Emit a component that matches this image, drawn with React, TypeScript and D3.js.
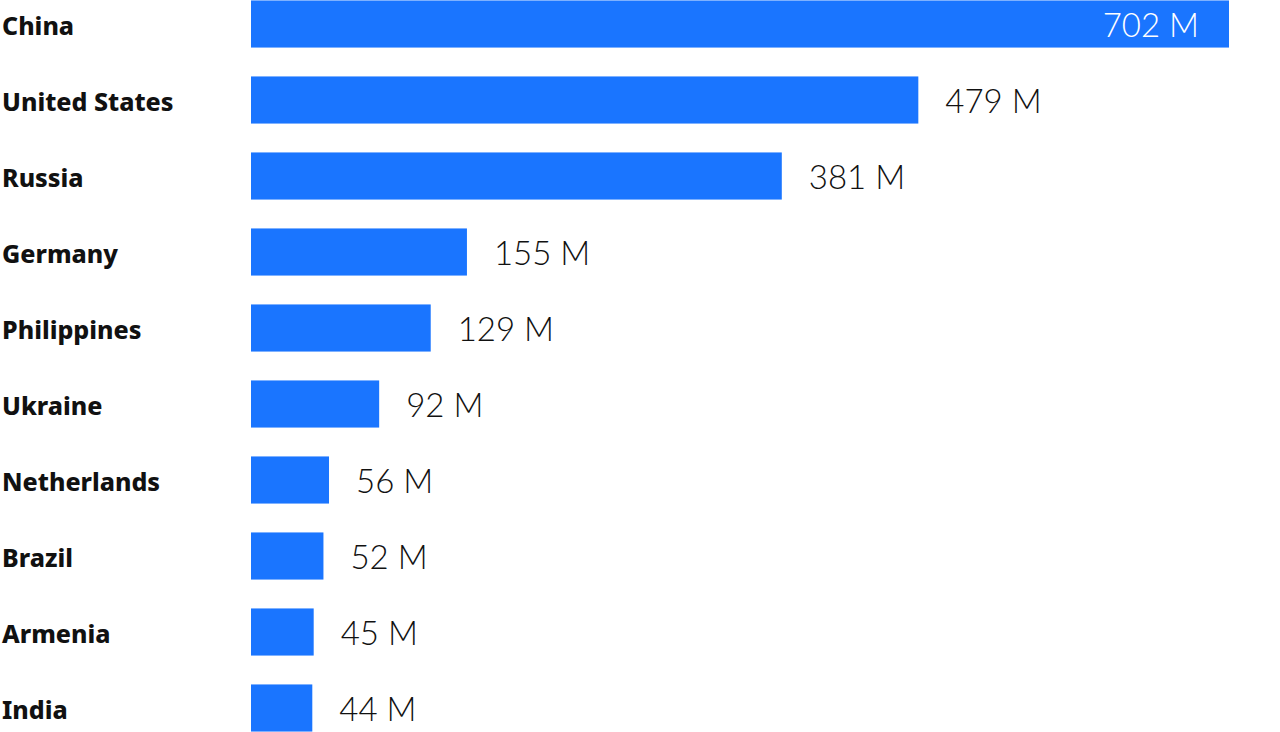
import React from "react";
import * as d3 from "d3";

const countries = ["China", "United States", "Russia", "Germany", "Philippines", "Ukraine", "Netherlands", "Brazil", "Armenia", "India"];
const values = [702, 479, 381, 155, 129, 92, 56, 52, 45, 44];

export default function App() {
  const W = 1280, H = 732;
  const x = d3.scaleLinear().domain([0, 702]).range([251, 1229]);
  const y = d3.scaleBand<string>().domain(countries).range([-14, 746]).paddingInner(0.38).paddingOuter(0.19);
  const color = "#1a75ff";
  return (
    <svg width={W} height={H} style={{ position: "absolute", left: 0, top: 0, background: "#fff" }}>
      {countries.map((c, i) => {
        const v = values[i];
        const yy = y(c)!;
        const bw = y.bandwidth();
        const end = x(v);
        const inside = i === 0;
        return (
          <g key={c}>
            <text x={2} y={yy + bw / 2 + 2} dy="0.35em" fontFamily="'Noto Sans', 'Open Sans', sans-serif" fontWeight={800} fontSize={25} fill="#111">{c}</text>
            <rect x={x(0)} y={yy} width={end - x(0)} height={bw} fill={color} />
            <text x={inside ? end - 30 : end + 27} y={yy + bw / 2 + 1} dy="0.36em" textAnchor={inside ? "end" : "start"} fontFamily="Lato, 'Noto Sans', sans-serif" fontWeight={300} fontSize={33} fill={inside ? "#fff" : "#111"}>{d3.format("d")(v) + " M"}</text>
          </g>
        );
      })}
    </svg>
  );
}
